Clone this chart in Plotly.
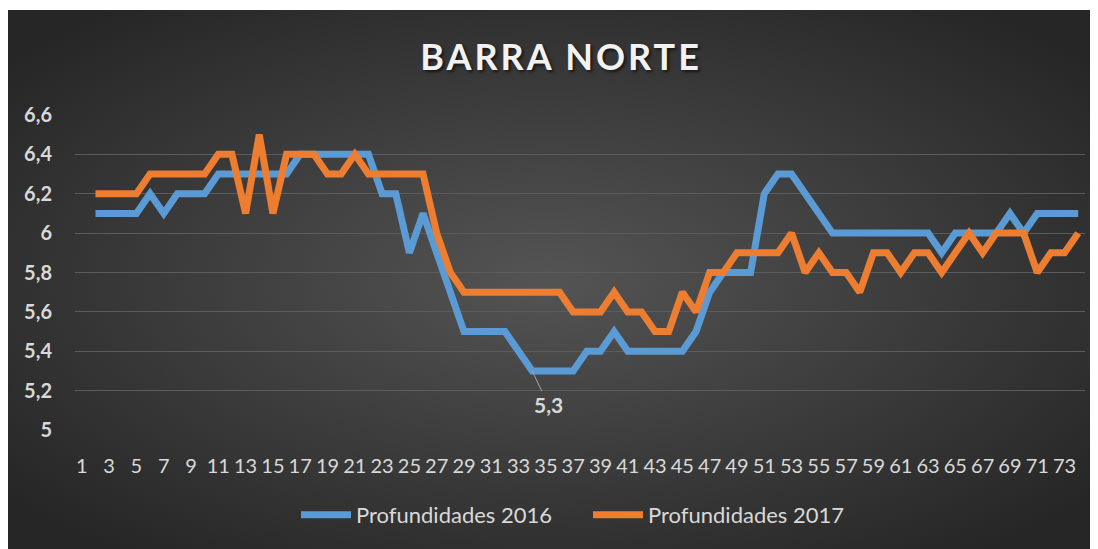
import base64
import plotly.graph_objects as go

# ---- data ----
categories = list(range(1, 75))
x_points = list(range(2, 75))
prof_2016 = [6.1, 6.1, 6.1, 6.1, 6.2, 6.1, 6.2, 6.2, 6.2, 6.3, 6.3, 6.3, 6.3, 6.3, 6.3,
             6.4, 6.4, 6.4, 6.4, 6.4, 6.4, 6.2, 6.2, 5.9, 6.1, 5.9, 5.7, 5.5, 5.5, 5.5,
             5.5, 5.4, 5.3, 5.3, 5.3, 5.3, 5.4, 5.4, 5.5, 5.4, 5.4, 5.4, 5.4, 5.4, 5.5,
             5.7, 5.8, 5.8, 5.8, 6.2, 6.3, 6.3, 6.2, 6.1, 6.0, 6.0, 6.0, 6.0, 6.0, 6.0,
             6.0, 6.0, 5.9, 6.0, 6.0, 6.0, 6.0, 6.1, 6.0, 6.1, 6.1, 6.1, 6.1]
prof_2017 = [6.2, 6.2, 6.2, 6.2, 6.3, 6.3, 6.3, 6.3, 6.3, 6.4, 6.4, 6.1, 6.5, 6.1, 6.4,
             6.4, 6.4, 6.3, 6.3, 6.4, 6.3, 6.3, 6.3, 6.3, 6.3, 6.0, 5.8, 5.7, 5.7, 5.7,
             5.7, 5.7, 5.7, 5.7, 5.7, 5.6, 5.6, 5.6, 5.7, 5.6, 5.6, 5.5, 5.5, 5.7, 5.6,
             5.8, 5.8, 5.9, 5.9, 5.9, 5.9, 6.0, 5.8, 5.9, 5.8, 5.8, 5.7, 5.9, 5.9, 5.8,
             5.9, 5.9, 5.8, 5.9, 6.0, 5.9, 6.0, 6.0, 6.0, 5.8, 5.9, 5.9, 6.0]
x_tick_vals = list(range(1, 75, 2))
x_tick_labels = [str(v) for v in x_tick_vals]
y_tick_vals = [5.0, 5.2, 5.4, 5.6, 5.8, 6.0, 6.2, 6.4, 6.6]
y_tick_labels = ["5", "5,2", "5,4", "5,6", "5,8", "6", "6,2", "6,4", "6,6"]
label_index = 32  # point 34 in 2016 series

FONT = "Lato"
TXT = "#d9d9d9"
OFF = 8  # page body margin

fig = go.Figure()
fig.add_trace(go.Scatter(x=x_points, y=prof_2016, mode="lines", name="Profundidades 2016",
                         line=dict(color="#5b9bd5", width=7)))
fig.add_trace(go.Scatter(x=x_points, y=prof_2017, mode="lines", name="Profundidades 2017",
                         line=dict(color="#ed7d31", width=7)))

fig.add_annotation(x=x_points[label_index], y=prof_2016[label_index],
                   text=str(prof_2016[label_index]).replace(".", ","),
                   showarrow=True, arrowhead=0, arrowwidth=1, arrowcolor="#a6a6a6",
                   ax=16, ay=34, standoff=0,
                   font=dict(family=FONT, size=21, color=TXT, weight="bold"))

# figure geometry (reference coords minus body margin)
W, H = 1098 - OFF, 549 - OFF
px0, px1, py0, py1 = 75 - OFF, 1085 - OFF, 115 - OFF, 430 - OFF
L, R, T, B = px0, W - px1, py0, H - py1
pw, ph = px1 - px0, py1 - py0

def fx(x):
    return (x - OFF - px0) / pw

def fy(y):
    return (py1 - (y - OFF)) / ph

svg = ('<svg xmlns="http://www.w3.org/2000/svg" width="1092" height="539" viewBox="0 0 1092 539" '
       'preserveAspectRatio="none"><defs><radialGradient id="g" cx="50%" cy="50%" r="64%">'
       '<stop offset="0" stop-color="#545454"/><stop offset="1" stop-color="#262626"/>'
       '</radialGradient></defs><rect width="1092" height="539" fill="url(#g)"/></svg>')
src = "data:image/svg+xml;base64," + base64.b64encode(svg.encode()).decode()
bx0, by0, bx1, by1 = 3, 10, 1095, 549
fig.add_layout_image(source=src, xref="paper", yref="paper",
                     x=fx(bx0), y=fy(by0),
                     sizex=(bx1 - bx0) / pw, sizey=(by1 - by0) / ph,
                     xanchor="left", yanchor="top", sizing="stretch", layer="below")

fig.update_layout(
    width=W, height=H,
    margin=dict(l=L, r=R, t=T, b=B),
    paper_bgcolor="white",
    plot_bgcolor="rgba(0,0,0,0)",
    title=dict(text='<span style="letter-spacing:3px">BARRA NORTE</span>',
               x=fx(561), xref="paper", xanchor="center",
               y=1 - (57 - OFF) / H, yanchor="middle",
               font=dict(family=FONT, size=36, color="#f2f2f2", weight="bold",
                         shadow="2px 2px 3px rgba(0,0,0,0.6)")),
    legend=dict(orientation="h", x=fx(588), xanchor="center",
                y=fy(515), yanchor="middle",
                font=dict(family=FONT, size=22, color=TXT),
                bgcolor="rgba(0,0,0,0)", itemwidth=50, tracegroupgap=0,
                entrywidth=227, entrywidthmode="pixels"),
    showlegend=True,
)
fig.update_xaxes(range=[0.5, 74.5], tickmode="array", tickvals=x_tick_vals,
                 ticktext=x_tick_labels, showgrid=False, zeroline=False, showline=False,
                 ticks="outside", ticklen=18, tickcolor="rgba(0,0,0,0)",
                 tickfont=dict(family=FONT, size=20, color=TXT))
fig.update_yaxes(range=[5, 6.6], tickmode="array", tickvals=y_tick_vals,
                 ticktext=y_tick_labels, showgrid=True, gridcolor="#5c5c5c", gridwidth=1,
                 zeroline=False, showline=False, ticks="", ticklabelstandoff=22,
                 tickfont=dict(family=FONT, size=20, color=TXT, weight="bold"))

fig.write_html("out.html")
